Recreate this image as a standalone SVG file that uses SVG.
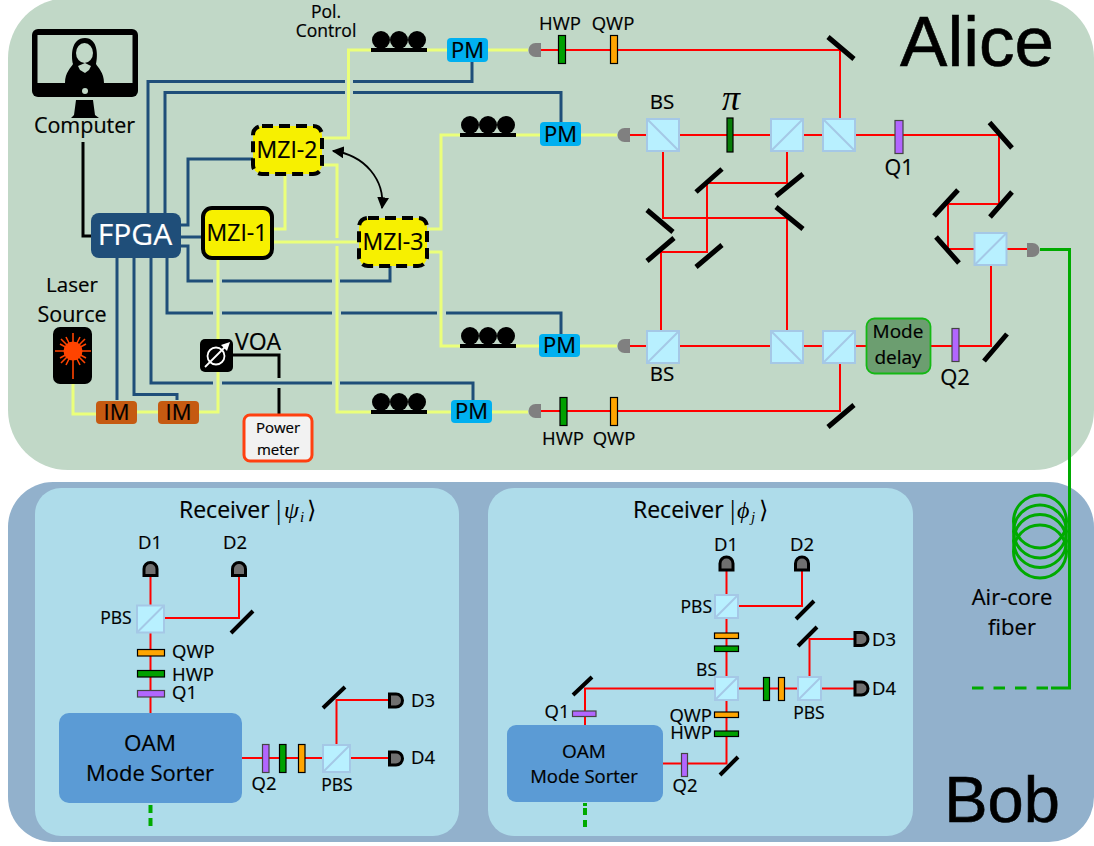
<svg xmlns="http://www.w3.org/2000/svg" width="1094" height="846" viewBox="0 0 1094 846">
<style>
text{font-family:"Open Sans","Noto Sans","Liberation Sans",sans-serif;fill:#000;stroke:#000;stroke-width:.2;text-anchor:middle}
.big{font-family:"Liberation Sans",sans-serif;stroke-width:.6}
.math{font-family:"Liberation Serif",serif;font-style:italic;stroke-width:0}
.m{font-family:"Liberation Serif",serif;stroke-width:0}
.t17{font-size:17.500px}.t18{font-size:18.500px}.t15{font-size:15px}.t19{font-size:19px}.t20{font-size:20.500px}.t21{font-size:21.500px}.t22{font-size:22px}.t23{font-size:23px}.t24{font-size:24px}
.l{text-anchor:start}.e{text-anchor:end}
.blue,.yel,.red,.blk,.grn{fill:none;stroke-linejoin:miter}
.blue{stroke:#1f4e79;stroke-width:3}
.yel{stroke:#ebff7a;stroke-width:3}
.red{stroke:#f00;stroke-width:2}
.blk{stroke:#000;stroke-width:3}
.grn{stroke:#00aa00;stroke-width:3}
.mir{stroke:#000;stroke-width:5;fill:none}
.pm{fill:#00b0f0}
.im{fill:#c55a11}
.mzi{fill:#f7f000;stroke:#000;stroke-width:4}
.dash{stroke-dasharray:11 6}
.hwp{fill:#00a000;stroke:#000;stroke-width:1.2}
.qwp{fill:#ffa500;stroke:#000;stroke-width:1.2}
.q{fill:#b266ff;stroke:#444;stroke-width:1.2}
.pi{fill:#087d08;stroke:#000;stroke-width:1.2}
.box{fill:#b8f0ff;stroke:#a5c8e6;stroke-width:2}
.sorter{fill:#5b9bd5}
.rcv{fill:#aedcea}
</style>
<defs>
<g id="coil"><circle cx="-18" cy="-10" r="9"/><circle cx="0" cy="-10" r="9"/><circle cx="18" cy="-10" r="9"/><rect x="-28" y="-2" width="56" height="4"/></g>
<path id="detL" d="M6.5,-7H1A7,7 0 0 0 1,7H6.500Z" fill="#808080"/>
<path id="detR" d="M-6.500,-7H-1A7,7 0 0 1 -1,7H-6.500Z" fill="#808080"/>
<path id="detU" d="M-6.500,6.500V0A6.500,6.500 0 0 1 6.500,0V6.500Z" fill="#707070" stroke="#000" stroke-width="3"/>
<path id="detF" d="M-6.500,-6.500H0A6.500,6.500 0 0 1 0,6.500H-6.500Z" fill="#707070" stroke="#000" stroke-width="3"/>
<g id="bsA"><rect class="box" x="-16" y="-16" width="32" height="32"/><path d="M-16,16L16,-16" stroke="#a5c8e6" stroke-width="2"/></g>
<g id="bsB"><rect class="box" x="-16" y="-16" width="32" height="32"/><path d="M-16,-16L16,16" stroke="#a5c8e6" stroke-width="2"/></g>
<g id="bsM"><rect class="box" x="-13.500" y="-13.500" width="27" height="27"/><path d="M-13.500,13.500L13.500,-13.500" stroke="#a5c8e6" stroke-width="2"/></g>
<g id="bsS"><rect class="box" x="-11.500" y="-11.500" width="23" height="23"/><path d="M-11.500,11.500L11.500,-11.500" stroke="#a5c8e6" stroke-width="2"/></g>
<marker id="ah" viewBox="0 0 10 10" refX="9" refY="5" markerWidth="12" markerHeight="12" markerUnits="userSpaceOnUse" orient="auto-start-reverse"><path d="M0,0L10,5L0,10Z"/></marker>
</defs>

<g id="panels">
<rect x="8" y="-2" width="1086" height="472" rx="60" fill="#c1d8c7"/>
<rect x="8" y="482" width="1086" height="360" rx="45" fill="#92b1cc"/>
<rect class="rcv" x="35" y="488" width="424" height="348" rx="26"/>
<rect class="rcv" x="488" y="488" width="425" height="348" rx="26"/>
<text class="big" x="977" y="66" style="font-size:71px">Alice</text>
<text class="big" x="1002" y="822" style="font-size:65px">Bob</text>
</g>

<g id="connectors">
<path class="blk" d="M83,142V236H92"/>
<path class="blk" d="M233,355H279V378M279,388V414"/>
<path class="blue" d="M148,213V81.500H345M353,81.500H472V62"/>
<path class="blue" d="M165,213V92.500H345M353,92.500H561V122"/>
<path class="blue" d="M181,225H188V159H253"/>
<path class="blue" d="M181,237H203"/>
<path class="blue" d="M181,246H188V281H213M222,281H332M340,281H390V266"/>
<path class="blue" d="M167,258V313H213M222,313H332M341,313H437M446,313H561V335"/>
<path class="blue" d="M151,258V383H213M222,383H332M340,383H473V400"/>
<path class="blue" d="M134,258V394.500H177V400"/>
<path class="blue" d="M117,258V400"/>
<path class="yel" d="M73,384V414H97M137,412H158M199,412H218V259"/>
<path class="yel" d="M273,229H285V175"/>
<path class="yel" d="M273,242H358"/>
<path class="yel" d="M323,138H348.500V50H371M427,50H447M488,50H528"/>
<path class="yel" d="M323,165H337V238M337,246V412H371M427,412H451M492,412H528"/>
<path class="yel" d="M428,229H441V135H460M516,135H540M581,135H617"/>
<path class="yel" d="M428,252H441V346H460M516,346H539M580,346H617"/>
<path class="red" d="M541,50H840V118"/>
<path class="red" d="M630,135H647M679,135H771M803,135H823M855,135H999V204H948V249H974M1007,249H1027"/>
<path class="red" d="M663,151V218H787V331"/>
<path class="red" d="M787,151V183H707V252H661V331"/>
<path class="red" d="M630,346H647M679,346H771M803,346H823M855,346H866M931,346H991V265"/>
<path class="red" d="M840,363V411H541"/>
<path class="grn" d="M1040,249.500H1069.500V688H1051"/>
<path class="grn" d="M1048,688H972" stroke-dasharray="11.500 10"/>
<circle class="grn" cx="1040" cy="521.500" r="26.500"/>
<circle class="grn" cx="1040" cy="531.500" r="26.500"/>
<circle class="grn" cx="1040" cy="541" r="26.500"/>
<circle class="grn" cx="1040" cy="551.500" r="26.500"/>
<path d="M333,151C365,155 385,180 382,208" fill="none" stroke="#000" stroke-width="1.800" marker-start="url(#ah)" marker-end="url(#ah)"/>
<path class="red" d="M150.500,576V606M164,618H239V576M150.500,632V713"/>
<path class="red" d="M242,758H323M350,758H389M336.500,745V700H389"/>
<path class="red" d="M726.500,570V595M738,606H802V570M726.500,618V677M715,688.500H585V725"/>
<path class="red" d="M663,763.500H726.500V700M738,688.500H798M821,688.500H855M809.500,677V639H855"/>
<path d="M150.500,805V827" stroke="#00aa00" stroke-width="4" stroke-dasharray="8 5" fill="none"/>
<path d="M585,803V827" stroke="#00aa00" stroke-width="4" stroke-dasharray="3 2 7 5 7 0" fill="none"/>
</g>

<g id="computer">
<rect x="32" y="29" width="106" height="68" rx="6"/>
<rect x="37.500" y="35" width="95" height="48" fill="#c1d8c7"/>
<path d="M65,83C65,72 71,68 73,64C71,56 71,38 85,38C98,38 98,56 96,64C98,68 104,72 104,83Z"/>
<ellipse cx="84.500" cy="53" rx="8.500" ry="10" fill="#c1d8c7"/>
<path d="M78,66L85,63L91,66L89,70L85,73L80,70Z" fill="#c1d8c7"/>
<circle cx="85" cy="91" r="3" fill="#c1d8c7"/>
<path d="M76,100H93L95,115L99,118H71L74,115Z"/>
<text class="t21" x="84.500" y="133">Computer</text>
</g>

<g id="fpga"><rect x="91" y="213" width="90" height="45" rx="8" fill="#1f4e79"/><text x="135" y="245" style="font-size:30px;fill:#fff;stroke:#fff">FPGA</text></g>
<g id="mzi-1"><rect class="mzi" x="203" y="208" width="69" height="50" rx="9"/><text class="t23" x="237" y="241">MZI-1</text></g>
<g id="mzi-2"><rect class="mzi dash" x="253" y="126" width="69" height="48" rx="9"/><text class="t23" x="287" y="158">MZI-2</text></g>
<g id="mzi-3"><rect class="mzi dash" x="359" y="218" width="68" height="48" rx="9"/><text class="t23" x="393" y="250">MZI-3</text></g>

<g id="laser">
<rect x="53" y="327" width="39" height="57" rx="7"/>
<circle cx="73" cy="351" r="9.500" fill="#ff4400"/>
<path d="M55,351H91M73,333V379M61,339L85,363M85,339L61,363M60,344L86,358M86,344L60,358M66,337L80,365M80,337L66,365" stroke="#ff4400" stroke-width="1.600" fill="none"/>
<text class="t20" x="72" y="292">Laser</text><text class="t21" x="72" y="322">Source</text>
</g>
<g id="im-1"><rect class="im" x="96" y="401" width="41" height="23" rx="4"/><text class="t22" x="116.500" y="420">IM</text></g>
<g id="im-2"><rect class="im" x="158" y="401" width="41" height="23" rx="4"/><text class="t22" x="178.500" y="420">IM</text></g>
<g id="voa">
<rect x="200" y="339" width="33" height="33" rx="5"/>
<circle cx="216" cy="356" r="8.500" fill="none" stroke="#fff" stroke-width="1.800"/>
<path d="M205,367L226,346" stroke="#fff" stroke-width="1.800"/><path d="M230,342L221,345L227,351Z" fill="#fff"/>
<text class="t23" x="258" y="350">VOA</text>
</g>
<g id="power-meter"><rect x="244" y="415" width="68" height="46" rx="6" fill="#f2f2f2" stroke="#ff4010" stroke-width="3"/><text x="278" y="433" style="font-size:15px">Power</text><text x="278" y="455" style="font-size:15px">meter</text></g>

<g id="pol-control"><use href="#coil" x="399" y="50"/><text class="t17" x="326" y="18">Pol.</text><text class="t17" x="326" y="37">Control</text></g>
<g id="pc-2"><use href="#coil" x="488" y="135"/></g>
<g id="pc-3"><use href="#coil" x="488" y="346"/></g>
<g id="pc-4"><use href="#coil" x="399" y="412"/></g>
<g id="pm-1"><rect class="pm" x="447" y="38" width="41" height="24" rx="4"/><text class="t22" x="467.500" y="58">PM</text></g>
<g id="pm-2"><rect class="pm" x="540" y="122" width="41" height="24" rx="4"/><text class="t22" x="560.500" y="142">PM</text></g>
<g id="pm-3"><rect class="pm" x="539" y="334" width="41" height="23" rx="4"/><text class="t22" x="559.500" y="353">PM</text></g>
<g id="pm-4"><rect class="pm" x="451" y="400" width="41" height="23" rx="4"/><text class="t22" x="471.500" y="419">PM</text></g>

<g id="detectors-alice">
<use href="#detL" x="534.500" y="50"/><use href="#detL" x="623.500" y="135"/><use href="#detL" x="623.500" y="346"/><use href="#detL" x="534.500" y="411"/><use href="#detR" x="1033.500" y="250"/>
</g>

<g id="optics-alice">
<rect class="hwp" x="558.500" y="35.500" width="7" height="28"/><rect class="qwp" x="610.500" y="35.500" width="7" height="28"/>
<text class="t18" x="560" y="30">HWP</text><text class="t18" x="613" y="30">QWP</text>
<rect class="hwp" x="560" y="397.500" width="7" height="28"/><rect class="qwp" x="610.500" y="397.500" width="7" height="28"/>
<text class="t18" x="563" y="445">HWP</text><text class="t18" x="614" y="445">QWP</text>
<rect class="pi" x="727" y="118" width="6" height="34"/>
<text x="731" y="110" class="math" style="font-size:36px">π</text>
<rect class="q" x="895" y="120.500" width="8" height="33"/><text class="t21" x="899" y="175">Q1</text>
<rect class="q" x="952" y="328.500" width="7" height="33"/><text class="t22" x="955" y="385">Q2</text>
<use href="#bsB" x="663" y="135"/><use href="#bsA" x="787" y="135"/><use href="#bsB" x="839" y="135"/><use href="#bsA" x="990.500" y="249"/>
<use href="#bsA" x="663" y="347"/><use href="#bsB" x="787" y="347"/><use href="#bsA" x="839" y="347"/>
<text class="t20" x="662" y="109">BS</text><text class="t20" x="662" y="381">BS</text>
<path class="mir" d="M828,37L854,59M989.500,122.500L1012,148M990,217L1012,192M934,216L958,190M936,237L959,263M647,210L673,232M776,207L803,229M776,196L803,174M696,192L722,169M696,267L722,245M647,261L674,238M984,361L1007,334M828,427L854,405"/>
<rect x="866.500" y="318.500" width="64" height="55" rx="8" fill="#6c9e70" stroke="#14b814" stroke-width="1.800"/>
<text class="t19" x="898" y="338">Mode</text><text class="t19" x="898" y="364">delay</text>
</g>

<g id="air-core"><text class="t22" x="1012" y="605">Air-core</text><text class="t22" x="1012" y="635">fiber</text></g>

<g id="receiver-i">
<text class="t23 l" x="179" y="518">Receiver</text>
<text class="m l" x="276" y="519" style="font-size:27px">|</text><text class="math l" x="284" y="518" style="font-size:24px">ψ</text><text class="math l" x="300" y="522" style="font-size:15px">i</text><text class="m l" x="307" y="518" style="font-size:24px">⟩</text>
<text class="t18" x="150" y="549">D1</text><text class="t18" x="235" y="549">D2</text>
<use href="#detU" x="150.500" y="569"/><use href="#detU" x="239" y="569"/>
<use href="#bsM" x="150.500" y="619"/><text class="t17" x="116" y="624">PBS</text>
<path class="mir" style="stroke-width:4" d="M231,633L253,611M323,708L345,687"/>
<rect class="qwp" x="137.500" y="649.500" width="27" height="6.500"/><rect class="hwp" x="137.500" y="670.500" width="27" height="6.500"/><rect class="q" x="137.500" y="690.500" width="27" height="6.500"/>
<text class="t18 l" x="172" y="658">QWP</text><text class="t18 l" x="172" y="681">HWP</text><text class="t18 l" x="172" y="699">Q1</text>
<rect class="sorter" x="59" y="713" width="183" height="90" rx="10"/>
<text x="150" y="751" style="font-size:22.500px">OAM</text><text class="t22" x="150" y="781">Mode Sorter</text>
<rect class="q" x="262.500" y="744.500" width="6.500" height="28"/><rect class="hwp" x="279.500" y="744.500" width="6.500" height="28"/><rect class="qwp" x="298.500" y="744.500" width="6.500" height="28"/>
<use href="#bsM" x="336.500" y="758.500"/>
<use href="#detF" x="396" y="700.500"/><use href="#detF" x="396" y="758.500"/>
<text class="t18" x="423" y="707">D3</text><text class="t18" x="423" y="764">D4</text>
<text class="t18" x="264" y="790">Q2</text><text class="t17" x="337" y="791">PBS</text>
</g>

<g id="receiver-j">
<text class="t23 l" x="633" y="518">Receiver</text>
<text class="m l" x="730" y="519" style="font-size:27px">|</text><text class="math l" x="737" y="518" style="font-size:24px">ϕ</text><text class="math l" x="751" y="522" style="font-size:15px">j</text><text class="m l" x="759" y="518" style="font-size:24px">⟩</text>
<text class="t18" x="726" y="551">D1</text><text class="t18" x="802" y="551">D2</text>
<use href="#detU" x="726.500" y="563.500"/><use href="#detU" x="802" y="563.500"/>
<use href="#bsS" x="726.500" y="606.500"/><use href="#bsS" x="726.500" y="688.500"/><use href="#bsS" x="809.500" y="688.500"/>
<text class="t17 e" x="712" y="613">PBS</text><text class="t17 e" x="717" y="676">BS</text><text class="t17" x="809" y="719">PBS</text>
<rect class="qwp" x="714.500" y="633" width="24" height="5.500"/><rect class="hwp" x="714.500" y="646" width="24" height="5.500"/>
<rect class="qwp" x="714.500" y="712" width="24" height="5.500"/><rect class="hwp" x="714.500" y="731" width="24" height="5.500"/>
<rect class="q" x="572.500" y="711" width="23.500" height="5.500"/>
<rect class="q" x="681.500" y="753.500" width="6" height="23"/>
<rect class="hwp" x="763.500" y="677.500" width="6" height="23"/><rect class="qwp" x="778.500" y="677.500" width="6" height="23"/>
<path class="mir" style="stroke-width:4" d="M796,619L814,601M798,646L817,627M573,695L592,677M720,775L738,757"/>
<text class="t18 e" x="712" y="722">QWP</text><text class="t18 e" x="712" y="739">HWP</text>
<text class="t18" x="557" y="718">Q1</text><text class="t18" x="685" y="792">Q2</text>
<rect class="sorter" x="507" y="725" width="156" height="77" rx="9"/>
<text class="t19" x="584" y="758">OAM</text><text class="t18" x="584" y="783">Mode Sorter</text>
<use href="#detF" x="861.500" y="639"/><use href="#detF" x="861.500" y="688.500"/>
<text class="t18" x="884" y="646">D3</text><text class="t18" x="884" y="695">D4</text>
</g>
</svg>
